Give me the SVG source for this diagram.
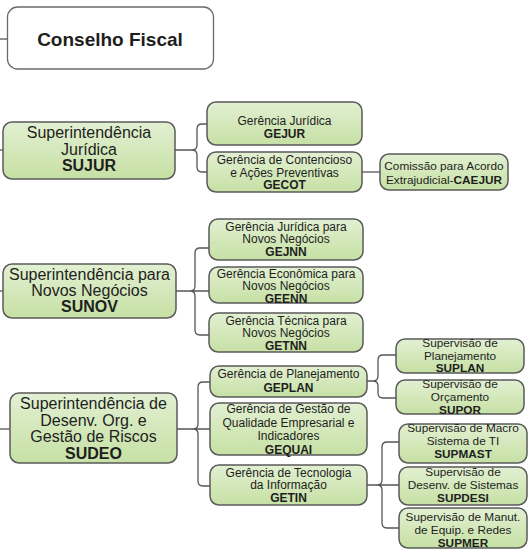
<svg xmlns="http://www.w3.org/2000/svg" width="532" height="560" viewBox="0 0 532 560">
<defs>
<linearGradient id="g" x1="0" y1="0" x2="0" y2="1">
<stop offset="0" stop-color="#e2f0d2"/>
<stop offset="1" stop-color="#c6e0a4"/>
</linearGradient>
<style>
.box{fill:url(#g);stroke:#5a5a5a;stroke-width:1.5}
.white{fill:#ffffff;stroke:#6a6a6a;stroke-width:1.3}
.c{fill:none;stroke:#555;stroke-width:1.3}
text{font-family:"Liberation Sans",Arial,sans-serif;fill:#1e1e1e;text-anchor:middle}
.s{font-size:16px}
.m{font-size:12px}
.p{font-size:11.8px}
.b{font-weight:bold}
</style>
</defs>
<rect width="532" height="560" fill="#ffffff"/>
<g id="connectors">
<path class="c" d="M0,39H7.5"/>
<path class="c" d="M0,150H3"/>
<path class="c" d="M0,291H3"/>
<path class="c" d="M0,429H10"/>
<path class="c" d="M175,150H192Q197,150 197,145V129Q197,124 202,124H207M192,150Q197,150 197,155V167Q197,172 202,172H207"/>
<path class="c" d="M362,172H380"/>
<path class="c" d="M176,291H190Q195,291 195,286V253Q195,248 200,248H209M190,291Q195,291 195,296V330Q195,335 200,335H209M190,291H209"/>
<path class="c" d="M177,429H193Q198,429 198,424V387Q198,382 203,382H210M193,429Q198,429 198,434V481Q198,486 203,486H210M193,429H210"/>
<path class="c" d="M367,381H373Q378,381 378,376V360Q378,355 383,355H396M373,381Q378,381 378,386V393Q378,398 383,398H396"/>
<path class="c" d="M367,485H377Q382,485 382,480V447Q382,442 387,442H399M377,485Q382,485 382,490V523Q382,528 387,528H399M377,485H399"/>
</g>
<g id="conselho">
<rect class="white" x="7.5" y="7" width="206" height="62" rx="10"/>
<text class="b" x="110" y="46" font-size="19">Conselho Fiscal</text>
</g>
<g id="sujur">
<rect class="box" x="3" y="122" width="172" height="57" rx="9"/>
<text class="s" x="89" y="138">Superintendência</text>
<text class="s" x="89" y="154.5">Jurídica</text>
<text class="s b" x="89" y="171">SUJUR</text>
</g>
<g id="gejur">
<rect class="box" x="207" y="102" width="155" height="43" rx="9"/>
<text class="m" x="284.5" y="124.5">Gerência Jurídica</text>
<text class="m b" x="284.5" y="137.5">GEJUR</text>
</g>
<g id="gecot">
<rect class="box" x="207" y="152" width="155" height="40" rx="9"/>
<text class="m" x="284.5" y="164">Gerência de Contencioso</text>
<text class="m" x="284.5" y="176.5">e Ações Preventivas</text>
<text class="m b" x="284.5" y="189">GECOT</text>
</g>
<g id="caejur">
<rect class="box" x="380" y="154" width="128" height="36" rx="9"/>
<text class="p" x="444" y="170">Comissão para Acordo</text>
<text class="p" x="444" y="184">Extrajudicial-<tspan class="b">CAEJUR</tspan></text>
</g>
<g id="sunov">
<rect class="box" x="3" y="264" width="173" height="54" rx="9"/>
<text class="s" x="89.5" y="280">Superintendência para</text>
<text class="s" x="89.5" y="296">Novos Negócios</text>
<text class="s b" x="89.5" y="312">SUNOV</text>
</g>
<g id="gejnn">
<rect class="box" x="209" y="219" width="154" height="41" rx="9"/>
<text class="m" x="286" y="230.5">Gerência Jurídica para</text>
<text class="m" x="286" y="243">Novos Negócios</text>
<text class="m b" x="286" y="256">GEJNN</text>
</g>
<g id="geenn">
<rect class="box" x="209" y="267" width="154" height="36" rx="9"/>
<text class="m" x="286" y="277.5">Gerência Econômica  para</text>
<text class="m" x="286" y="290">Novos Negócios</text>
<text class="m b" x="286" y="302.5">GEENN</text>
</g>
<g id="getnn">
<rect class="box" x="209" y="313" width="154" height="39" rx="9"/>
<text class="m" x="286" y="324.5">Gerência Técnica para</text>
<text class="m" x="286" y="337">Novos Negócios</text>
<text class="m b" x="286" y="349.5">GETNN</text>
</g>
<g id="sudeo">
<rect class="box" x="10" y="393" width="167" height="70" rx="9"/>
<text class="s" x="93.5" y="409">Superintendência de</text>
<text class="s" x="93.5" y="425.5">Desenv. Org. e</text>
<text class="s" x="93.5" y="442">Gestão de Riscos</text>
<text class="s b" x="93.5" y="458.5">SUDEO</text>
</g>
<g id="geplan">
<rect class="box" x="210" y="366" width="157" height="31" rx="9"/>
<text class="m" x="288.5" y="377.5">Gerência de Planejamento</text>
<text class="m b" x="288.5" y="392">GEPLAN</text>
</g>
<g id="gequai">
<rect class="box" x="210" y="403" width="157" height="52" rx="9"/>
<text class="m" x="288.5" y="413">Gerência de Gestão de</text>
<text class="m" x="288.5" y="426.5">Qualidade Empresarial e</text>
<text class="m" x="288.5" y="440">Indicadores</text>
<text class="m b" x="288.5" y="453.5">GEQUAI</text>
</g>
<g id="getin">
<rect class="box" x="210" y="465" width="157" height="40" rx="9"/>
<text class="m" x="288.5" y="476.5">Gerência de Tecnologia</text>
<text class="m" x="288.5" y="489">da Informação</text>
<text class="m b" x="288.5" y="502">GETIN</text>
</g>
<g id="suplan">
<rect class="box" x="396" y="339" width="128" height="34" rx="9"/>
<text class="p" x="460" y="347">Supervisão de</text>
<text class="p" x="460" y="359.5">Planejamento</text>
<text class="p b" x="460" y="372">SUPLAN</text>
</g>
<g id="supor">
<rect class="box" x="396" y="380" width="128" height="34" rx="9"/>
<text class="p" x="460" y="387.5">Supervisão de</text>
<text class="p" x="460" y="400.5">Orçamento</text>
<text class="p b" x="460" y="413.5">SUPOR</text>
</g>
<g id="supmast">
<rect class="box" x="399" y="424" width="128" height="39" rx="9"/>
<text class="p" x="463" y="431.5">Supervisão de Macro</text>
<text class="p" x="463" y="445">Sistema de TI</text>
<text class="p b" x="463" y="457.5">SUPMAST</text>
</g>
<g id="supdesi">
<rect class="box" x="399" y="467" width="128" height="38" rx="9"/>
<text class="p" x="463" y="476">Supervisão de</text>
<text class="p" x="463" y="489">Desenv. de Sistemas</text>
<text class="p b" x="463" y="502">SUPDESI</text>
</g>
<g id="supmer">
<rect class="box" x="399" y="508" width="128" height="40" rx="9"/>
<text class="p" x="463" y="520.5">Supervisão de Manut.</text>
<text class="p" x="463" y="533.5">de Equip. e Redes</text>
<text class="p b" x="463" y="546.5">SUPMER</text>
</g>
</svg>
